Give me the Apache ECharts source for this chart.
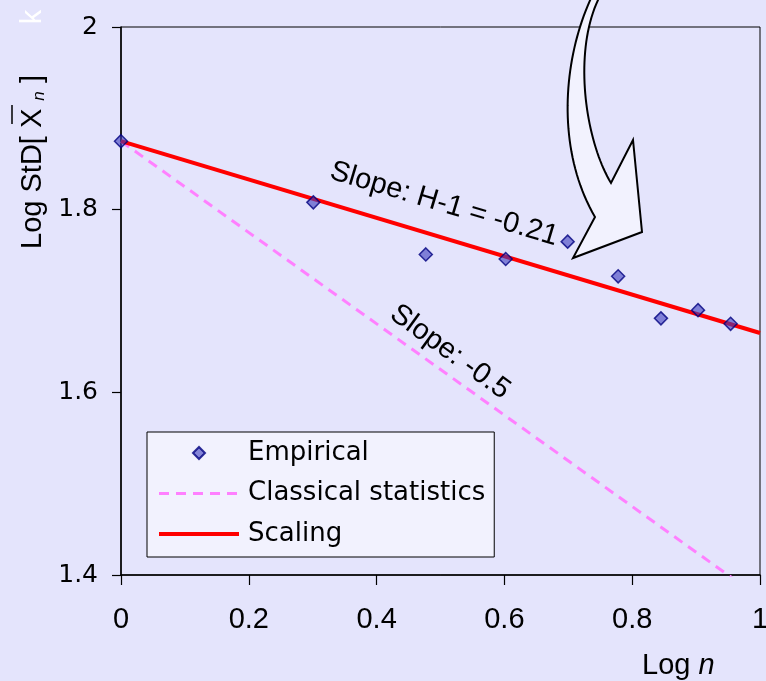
<!DOCTYPE html>
<html><head><meta charset="utf-8">
<script src="https://cdn.jsdelivr.net/npm/echarts@6/dist/echarts.min.js"></script>
<style>html,body{margin:0;padding:0;background:#e4e4fc;}#c{width:766px;height:681px;}</style>
</head><body><div id="c"></div>
<script>
// ---- data ----
const logN = [0, 0.301, 0.477, 0.602, 0.699, 0.778, 0.845, 0.903, 0.954];
const empirical = [1.875, 1.808, 1.751, 1.746, 1.765, 1.727, 1.681, 1.690, 1.675];
const scalingX = [0, 1];
const scalingY = [1.875, 1.665];
const classicalX = [0, 1];
const classicalY = [1.875, 1.375];
const legendNames = ['Empirical', 'Classical statistics', 'Scaling'];

// ---- decorative arrow outline ----
function cubic(p0, p1, p2, p3, n) {
  const pts = [];
  for (let i = 0; i <= n; i++) {
    const t = i / n, u = 1 - t;
    pts.push([
      u*u*u*p0[0] + 3*u*u*t*p1[0] + 3*u*t*t*p2[0] + t*t*t*p3[0],
      u*u*u*p0[1] + 3*u*u*t*p1[1] + 3*u*t*t*p2[1] + t*t*t*p3[1]
    ]);
  }
  return pts;
}
const outer = cubic([592,-4],[562,60],[556,150],[595,217],40);
const head = [[573,258],[642,232],[633,140],[611,183]];
const inner = cubic([611,183],[585,140],[572,50],[600,-4],40).slice(1);
const arrowPts = outer.concat(head, inner);

const chart = echarts.init(document.getElementById('c'), null, {renderer:'canvas'});
const LS = '"Liberation Sans", Arial, sans-serif';
const DJ = '"DejaVu Sans", sans-serif';
// legend icon for the scatter: small diamond centred in an 80x12 slot
const diamondIcon = 'path://M0,6 L0.01,6 M34,6 L40,0 L46,6 L40,12 Z M79.99,6 L80,6';
chart.setOption({
  backgroundColor: '#e4e4fc',
  animation: false,
  grid: { left: 121, right: 6, top: 27, bottom: 106, show: true, borderColor: '#000', borderWidth: 1, backgroundColor: 'transparent', outerBoundsMode: 'none', containLabel: false },
  xAxis: {
    type: 'value', min: 0, max: 1, interval: 0.2,
    axisLine: { show: true, lineStyle: { color: '#000', width: 1.5 } },
    axisTick: { show: true, length: 10, lineStyle: { color: '#000', width: 1.2 } },
    axisLabel: { margin: 30, fontFamily: LS, fontSize: 29, color: '#000', showMinLabel: true, showMaxLabel: true },
    splitLine: { show: false }
  },
  yAxis: {
    type: 'value', min: 1.4, max: 2, interval: 0.2,
    axisLine: { show: true, lineStyle: { color: '#000', width: 1.5 } },
    axisTick: { show: true, length: 9, lineStyle: { color: '#000', width: 1.2 } },
    axisLabel: { margin: 23, fontFamily: DJ, fontSize: 25, color: '#000',
      formatter: v => String(Math.round(v * 10) / 10) },
    splitLine: { show: false }
  },
  legend: {
    orient: 'vertical', left: 147, top: 432,
    padding: [8, 9, 10, 10],
    itemWidth: 80, itemHeight: 12, itemGap: 14.5,
    symbolKeepAspect: true,
    backgroundColor: '#f2f2fe', borderColor: '#000', borderWidth: 1,
    textStyle: { fontFamily: DJ, fontSize: 26, color: '#000', lineHeight: 26, padding: [0, 0, 0, 4] },
    data: [
      { name: legendNames[0], icon: diamondIcon },
      { name: legendNames[1], itemStyle: { opacity: 0 }, lineStyle: { width: 3, type: [10, 7], color: '#ff80ff' } },
      { name: legendNames[2], itemStyle: { opacity: 0 }, lineStyle: { width: 4, color: '#ff0000' } }
    ]
  },
  series: [
    {
      name: legendNames[0], type: 'scatter', z: 4,
      symbol: 'diamond', symbolSize: 13, symbolKeepAspect: true,
      itemStyle: { color: 'rgba(60,60,190,0.75)', borderColor: '#000080', borderWidth: 1.5 },
      data: logN.map((x, i) => [x, empirical[i]])
    },
    {
      name: legendNames[1], type: 'line', z: 2, symbol: 'none', showSymbol: false, clip: true,
      lineStyle: { color: '#ff80ff', width: 3, type: [10, 7] },
      itemStyle: { color: '#ff80ff' },
      data: classicalX.map((x, i) => [x, classicalY[i]])
    },
    {
      name: legendNames[2], type: 'line', z: 3, symbol: 'none', showSymbol: false,
      lineStyle: { color: '#ff0000', width: 4 },
      itemStyle: { color: '#ff0000' },
      data: scalingX.map((x, i) => [x, scalingY[i]])
    }
  ],
  graphic: [
    { type: 'polygon', z: 20, shape: { points: arrowPts }, style: { fill: '#f2f2fe', stroke: '#000', lineWidth: 2 } },
    { type: 'text', z: 20, x: 444, y: 204, rotation: -16.5 * Math.PI / 180,
      style: { text: 'Slope: H-1 = -0.21', font: '29px ' + LS, fill: '#000', align: 'center', verticalAlign: 'middle', textAlign: 'center', textVerticalAlign: 'middle' } },
    { type: 'text', z: 20, x: 450, y: 352, rotation: -36 * Math.PI / 180,
      style: { text: 'Slope: -0.5', font: '29px ' + LS, fill: '#000', align: 'center', verticalAlign: 'middle', textAlign: 'center', textVerticalAlign: 'middle' } },
    { type: 'text', z: 20, x: 33, y: 162, rotation: Math.PI / 2,
      style: { text: '{a|Log StD[ X }{b|n}{a| ]}', fill: '#000', align: 'center', verticalAlign: 'middle', textAlign: 'center', textVerticalAlign: 'middle',
        rich: { a: { font: '29px ' + LS, fill: '#000' }, b: { font: 'italic 17px ' + LS, fill: '#000', verticalAlign: 'bottom' } } } },
    { type: 'line', z: 20, shape: { x1: 12, y1: 105, x2: 12, y2: 124 }, style: { stroke: '#000', lineWidth: 1.5 } },
    { type: 'text', z: 20, x: 33, y: 17, rotation: Math.PI / 2,
      style: { text: 'k', font: '29px ' + LS, fill: '#ffffff', align: 'center', verticalAlign: 'middle', textAlign: 'center', textVerticalAlign: 'middle' } },
    { type: 'text', z: 20, x: 642, y: 666,
      style: { text: '{a|Log }{b|n}', fill: '#000', align: 'left', verticalAlign: 'middle', textAlign: 'left', textVerticalAlign: 'middle',
        rich: { a: { font: '29px ' + LS, fill: '#000' }, b: { font: 'italic 29px ' + LS, fill: '#000' } } } }
  ]
});
</script></body></html>
